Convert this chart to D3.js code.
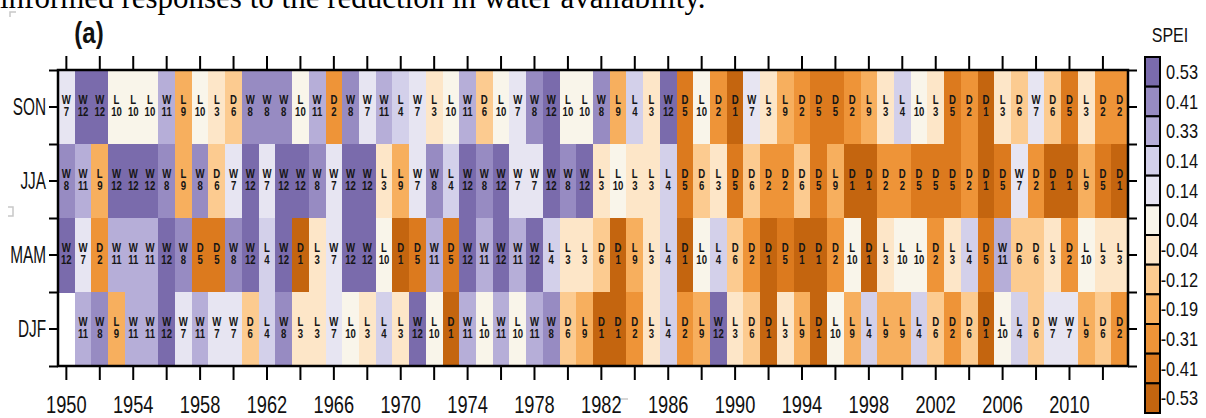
<!DOCTYPE html>
<html>
<head>
<meta charset="utf-8">
<script src="https://cdn.jsdelivr.net/npm/d3@7"></script>
<style>
  body { margin: 0; background: #fff; }
  svg { display: block; }
</style>
</head>
<body>
<svg id="chart" width="1206" height="418"></svg>
<script>
// ---- data ----
const seasons = ["SON", "JJA", "MAM", "DJF"];
const years = d3.range(1950, 2014);

// class number shown in each cell, 1950..2013
const son = [7,12,12,10,10,10,11,9,10,3, 6,8,8,8,10,11,2,8,7,11, 4,7,3,10,11,6,10,7,8,12,
             10,10,8,9,4,3,12,5,10,2, 1,7,3,9,2,5,5,2,9,3, 4,10,3,5,2,1,3,6,7,6, 5,3,2,2];
const jja = [8,11,9,12,12,12,8,9,8,6, 7,12,7,12,12,8,7,12,12,3, 9,7,8,4,12,8,12,7,7,12,
             8,12,3,10,3,3,4,5,6,3, 5,6,2,2,6,5,9,1,1,2, 2,5,5,5,2,1,5,7,2,1, 1,9,5,1];
const mam = [12,7,2,11,11,11,12,8,5,5, 8,12,4,12,1,3,7,12,12,10, 1,5,11,5,12,11,12,11,12,4,
             3,3,6,1,9,3,4,1,10,4, 6,2,1,5,1,1,2,10,1,3, 10,10,2,3,4,5,11,6,6,3, 2,10,3,3];
const djf = [null,11,8,9,11,11,12,7,11,7, 7,6,4,8,3,3,7,10,3,4, 3,12,10,1,11,10,11,10,11,8,
             6,9,1,1,2,3,4,2,9,12, 3,6,1,3,9,1,10,9,4,9, 9,4,6,2,6,1,10,4,6,7, 7,9,6,2];

// which class goes with which legend box (top to bottom)
const classOrder = [12, 8, 11, 4, 7, 10, 3, 6, 9, 2, 5, 1];
const legendLabels = ["0.53","0.41","0.33","0.14","0.14","0.04","-0.04","-0.12","-0.19","-0.31","-0.41","-0.53"];
const legendColors = ["#7a6bac","#978bc2","#b6aed8","#d3d0ea","#e7e5f2","#f9f5ea",
                      "#fde6c8","#fccb90","#f7af5e","#ee9438","#dc7a1e","#c4650f"];
const letterGroups = { W: [7, 8, 11, 12], L: [3, 4, 9, 10], D: [1, 2, 5, 6] };

// ---- setup ----
const sans = "'Liberation Sans', Arial, sans-serif";
const svg = d3.select("#chart");

const x = d3.scaleBand().domain(years).range([58, 1128]);
const y = d3.scaleBand().domain(seasons).range([70, 366]);
const yEdge = d3.scaleLinear().domain([0, 4]).range([70, 366]);
const color = d3.scaleOrdinal().domain(classOrder).range(legendColors);

function letterOf(v) {
    for (const k in letterGroups) {
        if (letterGroups[k].indexOf(v) >= 0) return k;
    }
    return "";
}

const rows = [son, jja, mam, djf];
const cells = [];
seasons.forEach(function (s, i) {
    rows[i].forEach(function (v, j) {
        if (v !== null) cells.push({ season: s, year: years[j], v: v });
    });
});

// text cut at top of the page
svg.append("text")
    .attr("x", 0).attr("y", 8)
    .attr("font-family", "'Liberation Serif', 'Times New Roman', serif")
    .attr("font-size", 31)
    .attr("fill", "#000")
    .text("informed responses to the reduction in water availability.");

// faint page marks
const marks = svg.append("g").attr("stroke", "#c8c8c8").attr("stroke-width", 1.5).attr("fill", "none");
marks.append("path").attr("d", "M10,17 V12 H16");
marks.append("path").attr("d", "M8,207 H13 V216 H8");
marks.append("path").attr("d", "M618,399 H628");

// cells
svg.append("g")
    .attr("shape-rendering", "crispEdges")
    .selectAll("rect")
    .data(cells)
    .join("rect")
    .attr("x", d => x(d.year))
    .attr("y", d => y(d.season))
    .attr("width", x.bandwidth() + 0.6)
    .attr("height", y.bandwidth() + 0.6)
    .attr("fill", d => color(d.v));

// letter + number in each cell
const labels = svg.append("g")
    .attr("font-family", sans)
    .attr("font-weight", "bold")
    .attr("font-size", 12)
    .attr("text-anchor", "middle")
    .attr("fill", "#151515");

labels.selectAll("text.let")
    .data(cells)
    .join("text")
    .attr("class", "let")
    .attr("transform", d => "translate(" + (x(d.year) + x.bandwidth() / 2) + "," + (y(d.season) + y.bandwidth() / 2 - 3) + ") scale(0.8,1)")
    .text(d => letterOf(d.v));

labels.selectAll("text.num")
    .data(cells)
    .join("text")
    .attr("class", "num")
    .attr("transform", d => "translate(" + (x(d.year) + x.bandwidth() / 2) + "," + (y(d.season) + y.bandwidth() / 2 + 9) + ") scale(0.8,1)")
    .text(d => d.v);

// ---- axes ----
const evenYears = years.filter(d => d % 2 === 0);

function styleAxis(g) {
    g.select(".domain").remove();
    g.selectAll(".tick line").attr("stroke", "#000").attr("stroke-width", 2);
}

svg.append("g")
    .attr("transform", "translate(0,70)")
    .call(d3.axisTop(x).tickValues(evenYears).tickSize(14).tickSizeOuter(0).tickFormat(""))
    .call(styleAxis);

const bottom = svg.append("g")
    .attr("transform", "translate(0,366)")
    .call(d3.axisBottom(x).tickValues(evenYears).tickSize(14).tickSizeOuter(0)
        .tickFormat(d => (d % 4 === 2 ? d : "")))
    .call(styleAxis);

bottom.selectAll(".tick text")
    .attr("y", 47).attr("dy", 0)
    .attr("font-family", sans)
    .attr("font-size", 24)
    .attr("fill", "#111")
    .attr("transform", "scale(0.76,1)");

const left = svg.append("g")
    .attr("transform", "translate(58,0)")
    .call(d3.axisLeft(y).tickSize(9).tickSizeOuter(0))
    .call(styleAxis);

left.selectAll(".tick text")
    .attr("x", -12 / 0.64)
    .attr("font-family", sans)
    .attr("font-size", 24)
    .attr("fill", "#111")
    .attr("transform", "scale(0.64,1)");

svg.append("g")
    .attr("transform", "translate(58,0)")
    .call(d3.axisLeft(yEdge).tickValues([0, 1, 2, 3, 4]).tickSize(9).tickSizeOuter(0).tickFormat(""))
    .call(styleAxis);

svg.append("g")
    .attr("transform", "translate(1128,0)")
    .call(d3.axisRight(y).tickSize(9).tickSizeOuter(0).tickFormat(""))
    .call(styleAxis);

svg.append("g")
    .attr("transform", "translate(1128,0)")
    .call(d3.axisRight(yEdge).tickValues([0, 1, 2, 3, 4]).tickSize(9).tickSizeOuter(0).tickFormat(""))
    .call(styleAxis);

// frame
svg.append("rect")
    .attr("x", 58).attr("y", 70)
    .attr("width", 1070).attr("height", 296)
    .attr("fill", "none")
    .attr("stroke", "#000")
    .attr("stroke-width", 2.5);

// panel tag
svg.append("text")
    .attr("transform", "translate(89,43) scale(0.8,1)")
    .attr("text-anchor", "middle")
    .attr("font-family", sans)
    .attr("font-weight", "bold")
    .attr("font-size", 30)
    .attr("fill", "#111")
    .text("(a)");

// ---- legend ----
const ly = d3.scaleBand().domain(d3.range(legendLabels.length)).range([57, 413]);

const legend = svg.append("g");

legend.selectAll("rect")
    .data(legendColors)
    .join("rect")
    .attr("x", 1145)
    .attr("y", (d, i) => ly(i))
    .attr("width", 15)
    .attr("height", ly.bandwidth())
    .attr("fill", d => d)
    .attr("stroke", "#000")
    .attr("stroke-width", 2);

legend.selectAll("text")
    .data(legendLabels)
    .join("text")
    .attr("transform", (d, i) => "translate(1198," + (ly(i) + ly.bandwidth() / 2) + ") scale(0.82,1)")
    .attr("dy", "0.36em")
    .attr("text-anchor", "end")
    .attr("font-family", sans)
    .attr("font-size", 20)
    .attr("fill", "#111")
    .text(d => d);

svg.append("text")
    .attr("transform", "translate(1170,42) scale(0.8,1)")
    .attr("text-anchor", "middle")
    .attr("font-family", sans)
    .attr("font-size", 20)
    .attr("fill", "#111")
    .text("SPEI");
</script>
</body>
</html>
